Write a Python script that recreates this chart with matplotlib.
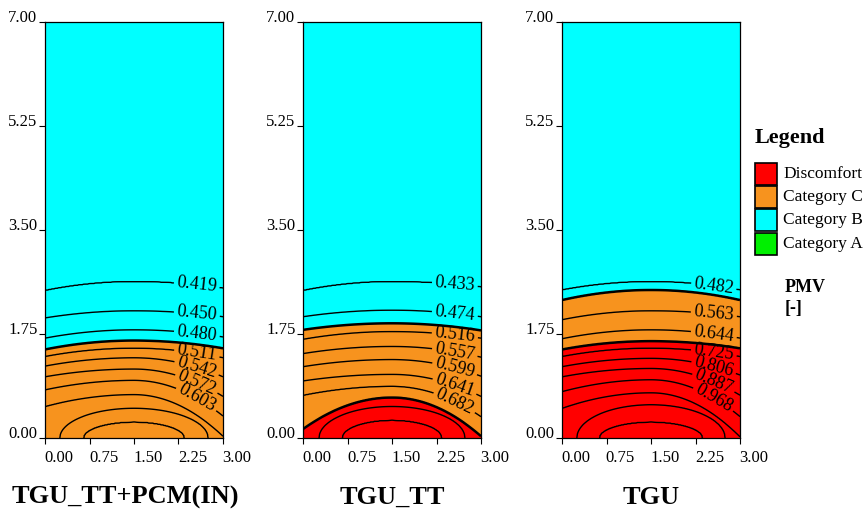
import numpy as np
import matplotlib
matplotlib.use('Agg')
import matplotlib.pyplot as plt
from matplotlib.patches import Rectangle
from matplotlib.transforms import ScaledTranslation

plt.rcParams['font.family'] = ['Liberation Serif', 'DejaVu Serif']

# ---- data ----
titles = ['TGU_TT+PCM(IN)', 'TGU_TT', 'TGU']

# PMV contour levels (outer ones are labelled), height of each contour on the
# centre line (x = 1.5), heights where it meets the left and right walls, or,
# for the innermost domes, the half width where they meet the floor
levels_1 = [0.419, 0.450, 0.480, 0.511, 0.542, 0.572, 0.603, 0.634, 0.664, 0.695]
center_1 = [2.63, 2.14, 1.82, 1.51, 1.35, 1.16, 0.97, 0.73, 0.50, 0.27]
left_1 = [2.48, 2.02, 1.68, 1.37, 1.21, 1.03, 0.81, 0.53, np.nan, np.nan]
right_1 = [2.52, 2.04, 1.70, 1.35, 1.03, 0.70, 0.37, 0.03, np.nan, np.nan]
foot_1 = [np.nan] * 8 + [1.25, 0.85]

levels_2 = [0.433, 0.474, 0.516, 0.557, 0.599, 0.641, 0.682, 0.724, 0.765]
center_2 = [2.63, 2.15, 1.79, 1.54, 1.32, 1.07, 0.87, 0.53, 0.30]
left_2 = [2.48, 2.04, 1.66, 1.42, 1.20, 0.96, 0.72, np.nan, np.nan]
right_2 = [2.54, 2.04, 1.68, 1.36, 1.04, 0.70, 0.36, np.nan, np.nan]
foot_2 = [np.nan] * 7 + [1.23, 0.84]

levels_3 = [0.482, 0.563, 0.644, 0.725, 0.806, 0.887, 0.968, 1.049, 1.130, 1.211]
center_3 = [2.63, 2.14, 1.82, 1.51, 1.34, 1.17, 0.98, 0.76, 0.56, 0.27]
left_3 = [2.49, 1.99, 1.67, 1.37, 1.20, 1.03, 0.78, 0.50, np.nan, np.nan]
right_3 = [2.49, 2.04, 1.68, 1.37, 1.06, 0.72, 0.36, 0.02, np.nan, np.nan]
foot_3 = [np.nan] * 8 + [1.25, 0.87]

n_labels = [7, 7, 7]

# category boundaries (thick lines): level, centre, left and right wall heights
bound_levels = [[0.5], [0.5, 0.7], [0.5, 0.7]]
bound_center = [[1.64], [1.93, 0.68], [2.49, 1.63]]
bound_left = [[1.49], [1.82, 0.15], [2.32, 1.49]]
bound_right = [[1.51], [1.81, 0.03], [2.32, 1.51]]

categories = ['Discomfort', 'Category C', 'Category B', 'Category A']
cat_colors = ['#ff0000', '#f7931e', '#00ffff', '#00f000']

panels = [
    (levels_1, center_1, left_1, right_1, foot_1),
    (levels_2, center_2, left_2, right_2, foot_2),
    (levels_3, center_3, left_3, right_3, foot_3),
]


def curve_y(x, h, wl, wr, a):
    dx = np.abs(x - 1.5)
    if not np.isnan(wl):
        w = wl if x < 1.5 else wr
        return h - (h - w) * (dx / 1.5) ** 2
    r = dx / a
    if r < 1:
        return h * np.sqrt(1 - r ** 2)
    return -0.5 * np.sqrt(r ** 2 - 1)


def build_field(x, y, lev, cen, wl, wr, foo, blev, bcen, bl, br):
    vals = list(lev) + list(blev)
    hs = list(cen) + list(bcen)
    wls = list(wl) + list(bl)
    wrs = list(wr) + list(br)
    fs = list(foo) + [np.nan] * len(blev)
    order = np.argsort(vals)[::-1]
    step = lev[1] - lev[0]
    Z = np.empty((len(y), len(x)))
    for i, xi in enumerate(x):
        ys = [curve_y(xi, hs[k], wls[k], wrs[k], fs[k]) for k in order]
        vs = [vals[k] for k in order]
        ys = [-5.0] + ys + [7.5]
        vs = [lev[-1] + step] + vs + [lev[0] - 0.8 * step]
        Z[:, i] = np.interp(y, ys, vs)
    return Z


fig = plt.figure(figsize=(8.66, 5.17), dpi=100)
lefts = [45 / 866, 303 / 866, 562 / 866]
title_x = [125 / 866, 392 / 866, 651 / 866]

x = np.linspace(0, 3, 301)
y = np.linspace(0, 7, 701)
X, Y = np.meshgrid(x, y)

for p, (lev, cen, wl, wr, foo) in enumerate(panels):
    ax = fig.add_axes([lefts[p], 1 - 438 / 517, 178 / 866, 416 / 517])
    Z = build_field(x, y, lev, cen, wl, wr, foo, bound_levels[p],
                    bound_center[p], bound_left[p], bound_right[p])

    ax.contourf(X, Y, Z, levels=[-10, 0.2, 0.5, 0.7, 10],
                colors=[cat_colors[3], cat_colors[2], cat_colors[1], cat_colors[0]])
    cs = ax.contour(X, Y, Z, levels=lev, colors='k', linewidths=1.0)
    ax.contour(X, Y, Z, levels=bound_levels[p], colors='k', linewidths=1.8)

    nl = n_labels[p]
    pos = [(2.56, curve_y(2.56, cen[k], wl[k], wr[k], foo[k])) for k in range(nl)]
    ax.clabel(cs, levels=lev[:nl], manual=pos, inline=True, fmt='%.3f',
              fontsize=13, inline_spacing=3)

    ax.set_xlim(0, 3)
    ax.set_ylim(0, 7)
    ax.set_xticks([0, 0.75, 1.5, 2.25, 3.0])
    ax.set_xticklabels(['0.00', '0.75', '1.50', '2.25', '3.00'])
    ax.set_yticks([0, 1.75, 3.5, 5.25, 7.0])
    ax.set_yticklabels(['0.00', '1.75', '3.50', '5.25', '7.00'])
    ax.tick_params(direction='out', length=4.5, width=0.8, labelsize=12)
    ax.tick_params(axis='y', pad=1)
    ax.tick_params(axis='x', pad=4)
    for s in ax.spines.values():
        s.set_linewidth(0.9)
    shift = ScaledTranslation(14 / 100, 0, fig.dpi_scale_trans)
    for lab in ax.get_xticklabels():
        lab.set_transform(lab.get_transform() + shift)
    for lab in ax.get_yticklabels():
        lab.set_verticalalignment('baseline')

    fig.text(title_x[p], 1 - 497 / 517, titles[p], ha='center', va='center',
             fontsize=19, fontweight='bold')

# legend
fig.text(755 / 866, 1 - 138 / 517, 'Legend', ha='left', va='center',
         fontsize=16, fontweight='bold')
tops = [163, 186, 209, 233]
for top, name, col in zip(tops, categories, cat_colors):
    fig.patches.append(Rectangle((755 / 866, 1 - (top + 22) / 517), 22 / 866, 22 / 517,
                                 transform=fig.transFigure, facecolor=col,
                                 edgecolor='k', linewidth=1.2))
    fig.text(783 / 866, 1 - (top + 11) / 517, name, ha='left', va='center',
             fontsize=12.5)
fig.text(785 / 866, 1 - 288 / 517, 'PMV', ha='left', va='center',
         fontsize=13, fontweight='bold')
fig.text(785 / 866, 1 - 309 / 517, '[-]', ha='left', va='center',
         fontsize=13, fontweight='bold')

fig.savefig('out.png', dpi=100)
